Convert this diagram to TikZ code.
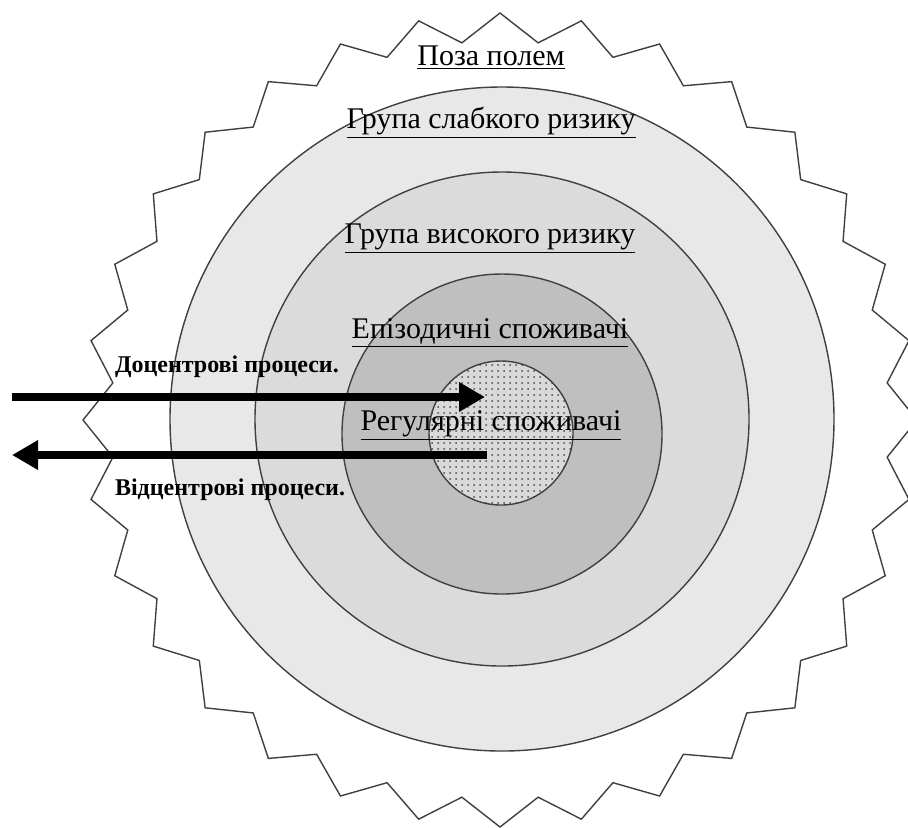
\documentclass[tikz,border=0pt]{standalone}
\usepackage{fontspec}
\setmainfont{Liberation Serif}
\usetikzlibrary{arrows.meta, patterns, positioning}

\definecolor{ringA}{gray}{0.91}
\definecolor{ringB}{gray}{0.86}
\definecolor{ringC}{gray}{0.75}
\definecolor{ringD}{gray}{0.85}
\definecolor{edge}{gray}{0.25}

\begin{document}
\begin{tikzpicture}[
    x=0.5pt, y=-0.5pt,
    ring/.style={draw=edge, line width=0.7pt},
    zone/.style={font=\fontsize{15}{18}\selectfont, anchor=base},
    flowlabel/.style={font=\fontsize{12}{14}\selectfont\bfseries, anchor=base west},
    flow/.style={line width=4pt, -{Triangle[length=13pt,width=14pt]}}
]
\useasboundingbox (0,0) rectangle (908,827);

% Field boundary
\begin{scope}[shift={(500,420)}]
\draw[draw=edge, line width=0.7pt, fill=white] (0:417 and 407)
  \foreach \k in {0,...,31} {-- ({5.625+\k*11.25}:389 and 379) -- ({11.25+\k*11.25}:417 and 407)} -- cycle;
\end{scope}

% Rings
\coordinate (centre) at (502,419);
\coordinate (core) at (501,433);
\draw[ring, fill=ringA] (centre) circle[radius=332];
\draw[ring, fill=ringB] (centre) circle[radius=247];
\draw[ring, fill=ringC] (502,434) circle[radius=160];
\fill[ringD] (core) circle[radius=72];
\fill[pattern=dots, pattern color=gray!60!black] (core) circle[radius=72];
\draw[ring] (core) circle[radius=72];

% Labels
\node[zone] (field) at (491,65) {\underline{Поза полем}};
\node[zone] (low) at (491,128) {\underline{Група слабкого ризику}};
\node[zone] (high) at (490,243) {\underline{Група високого ризику}};
\node[zone] (episodic) at (490,338) {\underline{Епізодичні споживачі}};
\node[zone] (regular) at (491,430) {\underline{Регулярні споживачі}};

\node[flowlabel] (inlabel) at (108,372) {Доцентрові процеси.};
\node[flowlabel] (outlabel) at (108,495) {Відцентрові процеси.};

% Arrows
\coordinate (inStart) at (12,397);
\coordinate (inEnd) at (485,397);
\coordinate (outStart) at (487,455);
\coordinate (outEnd) at (12,455);
\draw[flow] (inStart) -- (inEnd);
\draw[flow] (outStart) -- (outEnd);

\end{tikzpicture}
\end{document}
